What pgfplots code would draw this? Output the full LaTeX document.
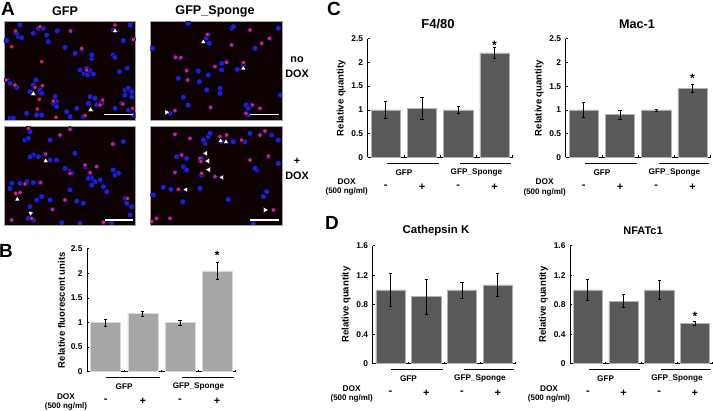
\documentclass[border=0pt]{standalone}
\usepackage{pgfplots}
\pgfplotsset{compat=1.18}
\usepackage{fontspec}
\setmainfont{Liberation Sans}

\definecolor{darkbar}{HTML}{595959}
\definecolor{lightbar}{HTML}{A6A6A6}
\definecolor{nucl}{HTML}{1E1EDC}
\definecolor{pinkc}{HTML}{EE2080}

\newcommand{\fs}[1]{\fontsize{#1}{#1}\selectfont}

\pgfplotsset{
  micro/.style={
    scale only axis, anchor=south west, y dir=reverse,
    axis background/.style={fill=black!95!red},
    axis line style={draw=black!35, line width=.6pt},
    xtick=\empty, ytick=\empty, clip=true, clip marker paths=true,
  },
  blue dots/.style={only marks, mark=*, mark size=2.9pt, mark options={fill=nucl, draw=none}},
  pink dots/.style={only marks, mark=*, mark size=2.2pt, mark options={fill=pinkc, draw=none, fill opacity=.9}},
  up tri/.style={only marks, mark=triangle*, mark size=3.2pt, mark options={fill=white, draw=none}},
  left tri/.style={only marks, mark=triangle*, mark size=3.2pt, mark options={fill=white, draw=none, rotate=90}},
  right tri/.style={only marks, mark=triangle*, mark size=3.2pt, mark options={fill=white, draw=none, rotate=-90}},
  down tri/.style={only marks, mark=triangle*, mark size=3.2pt, mark options={fill=white, draw=none, rotate=170}},
  scalebar/.style={no marks, draw=white, line width=1.1pt},
  barpanel/.style={
    scale only axis, anchor=south west, clip=false,
    ybar, bar width=29.3pt,
    xmin=-0.5, xmax=3.5, ymin=0,
    xtick={-0.5,0.5,1.5,2.5,3.5}, xticklabels={},
    axis x line*=bottom, axis y line*=left,
    tick align=inside, major tick length=2pt,
    axis line style={line width=.7pt}, tick style={line width=.6pt, black},
    yticklabel style={font=\bfseries\fs{8.4}, /pgf/number format/assume math mode=true, xshift=-1pt},
    ylabel={Relative quantity},
    ylabel style={font=\bfseries\fs{9.5}, yshift=-1pt},
  },
  errs/.style={
    error bars/y dir=both, error bars/y explicit,
    error bars/error bar style={black, line width=.7pt},
    error bars/error mark options={black, rotate=90, mark size=1.6pt, line width=.6pt}},
  gbar/.style={draw=black!30, line width=.5pt, fill=darkbar, errs},
  lbar/.style={draw=black!15, line width=.5pt, fill=lightbar, errs},
}

% brackets and group labels under a bar panel
\newcommand{\undertext}{%
  \draw[line width=.8pt] (axis cs:-0.48,0) ++(0,-6pt) -- ([yshift=-6pt]axis cs:1.46,0);
  \draw[line width=.8pt] (axis cs:1.56,0) ++(0,-6pt) -- ([yshift=-6pt]axis cs:3.46,0);
  \node[font=\bfseries\fs{8.2}] at ([yshift=-15pt]axis cs:0.5,0) {GFP};
  \node[font=\bfseries\fs{8.2}] at ([yshift=-15pt]axis cs:2.5,0) {GFP\_Sponge};
  \node[font=\bfseries\fs{8.3}] at ([xshift=-21pt,yshift=-24.5pt]axis cs:-0.5,0) {DOX};
  \node[font=\bfseries\fs{8}] at ([xshift=-21pt,yshift=-34.5pt]axis cs:-0.5,0) {(500 ng/ml)};
  \node[font=\bfseries\fs{11}] at ([yshift=-29.5pt]axis cs:0,0) {-};
  \node[font=\bfseries\fs{11}] at ([yshift=-29.5pt]axis cs:1,0) {+};
  \node[font=\bfseries\fs{11}] at ([yshift=-29.5pt]axis cs:2,0) {-};
  \node[font=\bfseries\fs{11}] at ([yshift=-29.5pt]axis cs:3,0) {+};
}

\begin{document}
\begin{tikzpicture}
\useasboundingbox (0pt,0pt) rectangle (713pt,411pt);

% panel letters and headings, in pixels from the top left
\begin{scope}[x=1pt,y=-1pt,yshift=411pt]
\node[font=\bfseries\fs{19}] at (8,9) {A};
\node[font=\bfseries\fs{19}] at (6,251) {B};
\node[font=\bfseries\fs{19}] at (334,9) {C};
\node[font=\bfseries\fs{19}] at (332,223) {D};
\node[font=\bfseries\fs{12.6}] at (65,11) {GFP};
\node[font=\bfseries\fs{12.6}] at (215,11) {GFP\_Sponge};
\node[font=\bfseries\fs{10.8}] at (297,60) {no};
\node[font=\bfseries\fs{10.8}] at (297,74) {DOX};
\node[font=\bfseries\fs{10.8}] at (297,161) {+};
\node[font=\bfseries\fs{10.8}] at (297,176) {DOX};
\node[font=\bfseries\fs{13}] at (438,24) {F4/80};
\node[font=\bfseries\fs{12.6}] at (637,24) {Mac-1};
\node[font=\bfseries\fs{11.4}] at (436,231) {Cathepsin K};
\node[font=\bfseries\fs{11}] at (643,231) {NFATc1};
\end{scope}

% A, GFP / no DOX
\begin{axis}[micro, at={(4pt,291pt)}, width=131.7pt, height=98.3pt, xmin=12, xmax=407, ymin=65, ymax=360]
\addplot[blue dots] coordinates {(45,98)(55,110)(65,113)(20,122)(100,100)(115,85)(130,85)(140,105)(145,125)(172,92)(212,93)(195,142)(225,160)(245,148)(275,175)(275,165)(340,165)(345,172)(240,210)(252,222)(262,225)(270,212)(280,222)(260,205)(358,215)(382,205)(398,118)(370,122)(22,240)(30,250)(50,262)(108,240)(100,255)(120,270)(90,275)(125,280)(165,290)(170,305)(160,310)(170,320)(230,325)(270,290)(285,295)(265,310)(290,315)(305,310)(345,325)(375,270)(385,265)(395,275)(375,285)(395,290)(365,310)(385,330)(400,345)(110,345)(125,345)(30,355)(40,355)(80,340)(200,335)(210,350)(250,350)(340,90)(390,75)(60,75)(50,100)};
\addplot[pink dots] coordinates {(47,93)(35,140)(120,80)(212,93)(245,145)(125,185)(260,210)(105,262)(127,257)(118,298)(160,303)(112,327)(168,352)(255,347)(308,300)(368,312)(398,325)(345,75)(400,118)(45,255)(300,315)(18,240)};
\addplot[up tri] coordinates {(345,93)(100,281)(272,329)};
\addplot[scalebar] coordinates {(313,344)(398,344)};
\end{axis}

% A, GFP_Sponge / no DOX
\begin{axis}[micro, at={(150.3pt,291pt)}, width=131.7pt, height=98.3pt, xmin=451, xmax=846, ymin=65, ymax=360]
\addplot[blue dots] coordinates {(625,105)(618,115)(628,130)(695,135)(695,85)(750,90)(785,130)(765,145)(810,115)(835,85)(565,70)(458,145)(525,170)(540,175)(680,185)(665,190)(645,200)(560,212)(595,213)(625,225)(665,210)(712,208)(730,195)(535,235)(563,240)(598,245)(620,270)(660,265)(660,280)(550,292)(565,315)(632,322)(525,332)(510,340)(738,315)(755,315)(745,325)(780,325)(738,340)(842,285)(745,345)(700,80)};
\addplot[pink dots] coordinates {(622,103)(695,135)(750,90)(808,115)(785,130)(527,172)(543,173)(730,188)(560,212)(680,187)(645,200)(563,240)(632,322)(525,332)(780,325)(738,340)(757,315)};
\addplot[up tri] coordinates {(610,126)(730,205)};
\addplot[right tri] coordinates {(500,337)};
\addplot[scalebar] coordinates {(750,344)(837,344)};
\end{axis}

% A, GFP / + DOX
\begin{axis}[micro, at={(4pt,186pt)}, width=131.7pt, height=98.3pt, xmin=12, xmax=407, ymin=380, ymax=675]
\addplot[blue dots] coordinates {(85,385)(75,420)(85,415)(90,395)(100,465)(90,470)(115,470)(135,462)(210,388)(180,405)(150,420)(150,480)(170,480)(195,505)(210,515)(215,520)(225,460)(255,500)(290,500)(270,520)(275,535)(265,535)(285,545)(275,555)(340,510)(355,520)(345,525)(300,540)(310,560)(320,575)(370,425)(340,432)(375,595)(380,610)(395,620)(390,645)(35,550)(30,565)(60,550)(80,545)(100,548)(120,548)(50,580)(60,578)(110,600)(125,590)(90,620)(195,600)(230,603)(250,610)(158,628)(35,660)(85,655)(100,660)(185,668)(240,670)(335,668)(310,667)(210,570)(150,600)};
\addplot[pink dots] coordinates {(85,385)(137,462)(210,388)(180,405)(338,432)(255,495)(290,500)(270,518)(122,548)(75,552)(47,580)(60,578)(195,600)(158,628)(95,655)(35,660)(310,667)(382,595)(210,520)};
\addplot[up tri] coordinates {(137,483)(52,598)};
\addplot[down tri] coordinates {(92,640)};
\addplot[scalebar] coordinates {(315,660)(400,660)};
\end{axis}

% A, GFP_Sponge / + DOX
\begin{axis}[micro, at={(150.3pt,186pt)}, width=131.7pt, height=98.3pt, xmin=451, xmax=846, ymin=380, ymax=675]
\addplot[blue dots] coordinates {(525,403)(570,415)(625,410)(615,430)(630,400)(610,420)(660,410)(680,405)(700,425)(735,425)(750,400)(780,405)(795,395)(815,405)(835,420)(545,465)(530,470)(550,500)(560,510)(600,480)(605,525)(645,530)(525,517)(750,480)(805,470)(835,490)(770,510)(765,505)(490,562)(513,568)(535,568)(548,605)(600,565)(685,598)(800,575)(790,590)(820,630)(460,585)(470,655)(510,655)(760,670)(605,475)(665,425)(560,475)};
\addplot[pink dots] coordinates {(525,403)(570,415)(680,405)(660,410)(725,420)(780,405)(795,393)(545,465)(600,475)(605,520)(645,530)(525,517)(535,568)(750,480)(805,468)(820,630)(510,655)(455,665)(470,655)(603,485)};
\addplot[up tri] coordinates {(662,423)(678,426)};
\addplot[left tri] coordinates {(617,460)(623,483)(626,509)(666,532)(558,569)};
\addplot[right tri] coordinates {(796,630)};
\addplot[scalebar] coordinates {(750,660)(838,660)};
\end{axis}

% B
\begin{axis}[barpanel, at={(87pt,39.3pt)}, width=148.7pt, height=123pt, ymax=2.5,
  ytick={0,0.5,1,1.5,2,2.5}, ylabel={Relative fluorescent units}, bar width=30pt]
\addplot[lbar] coordinates {(0,1) +- (0,0.07) (1,1.18) +- (0,0.05) (2,1) +- (0,0.05) (3,2.05) +- (0,0.17)};
\node[font=\bfseries\fs{12}] at (axis cs:3,2.36) {*};
\undertext
\end{axis}

% C
\begin{axis}[barpanel, at={(367.7pt,253.7pt)}, width=145pt, height=118.6pt, ymax=2.5,
  ytick={0,0.5,1,1.5,2,2.5}]
\addplot[gbar] coordinates {(0,1) +- (0,0.17) (1,1.03) +- (0,0.23) (2,1) +- (0,0.07) (3,2.2) +- (0,0.11)};
\node[font=\bfseries\fs{12}] at (axis cs:3,2.36) {*};
\undertext
\end{axis}

\begin{axis}[barpanel, at={(565.7pt,253.5pt)}, width=145pt, height=118.8pt, ymax=2.5,
  ytick={0,0.5,1,1.5,2,2.5}]
\addplot[gbar] coordinates {(0,1) +- (0,0.16) (1,0.9) +- (0,0.1) (2,1) +- (0,0.02) (3,1.45) +- (0,0.08)};
\node[font=\bfseries\fs{12}] at (axis cs:3,1.66) {*};
\undertext
\end{axis}

% D
\begin{axis}[barpanel, at={(372.7pt,47.3pt)}, width=143pt, height=118pt, ymax=1.6,
  ytick={0,0.4,0.8,1.2,1.6}]
\addplot[gbar] coordinates {(0,1) +- (0,0.22) (1,0.91) +- (0,0.24) (2,1) +- (0,0.11) (3,1.07) +- (0,0.16)};
\undertext
\end{axis}

\begin{axis}[barpanel, at={(570pt,47.3pt)}, width=142.7pt, height=118pt, ymax=1.6,
  ytick={0,0.4,0.8,1.2,1.6}]
\addplot[gbar] coordinates {(0,1) +- (0,0.14) (1,0.85) +- (0,0.09) (2,1) +- (0,0.13) (3,0.55) +- (0,0.03)};
\node[font=\bfseries\fs{12}] at (axis cs:3,0.64) {*};
\undertext
\end{axis}
\end{tikzpicture}
\end{document}
